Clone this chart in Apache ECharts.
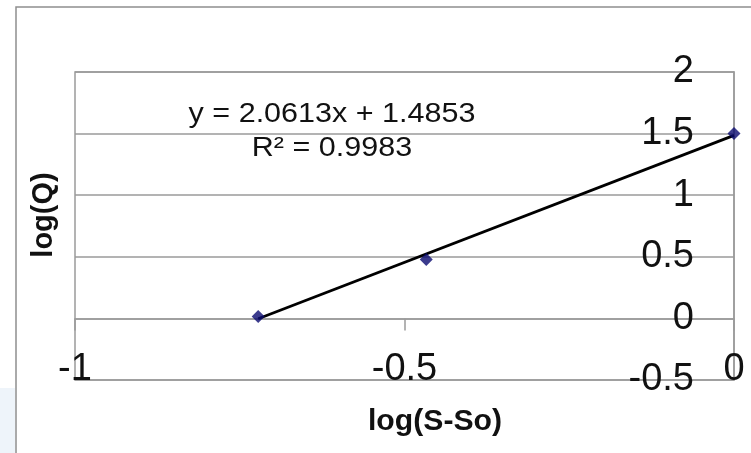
<!DOCTYPE html>
<html>
<head>
<meta charset="utf-8">
<script src="https://cdn.jsdelivr.net/npm/echarts@6/dist/echarts.min.js"></script>
<style>
html,body{margin:0;padding:0;background:#fff;}
#chart{width:751px;height:453px;}
</style>
</head>
<body>
<div id="chart"></div>
<script>
// Data
var logSSo = [-0.722, -0.467, 0];
var logQ = [0.016, 0.479, 1.50];
var xTicks = [-1, -0.5, 0];
var yTicks = [-0.5, 0, 0.5, 1, 1.5, 2];
// Trendline shown in the chart (y = 2.0613x + 1.4853, R² = 0.9983)
var trendSlope = 2.0613;
var trendIntercept = 1.4853;
var trendR2 = 0.9983;
var trendRange = [-0.722, 0];

var points = logSSo.map(function (x, i) { return [x, logQ[i]]; });
var trend = trendRange.map(function (x) { return [x, trendSlope * x + trendIntercept]; });

var FONT = '"Liberation Sans", Arial, sans-serif';
var GRAY = '#9a9a9a';
var chart = echarts.init(document.getElementById('chart'), null, {renderer: 'canvas'});
chart.setOption({
  backgroundColor: '#ffffff',
  animation: false,
  grid: {
    left: 75, right: 17, top: 72, bottom: 73,
    containLabel: false, outerBoundsMode: 'none',
    show: true, borderColor: GRAY, borderWidth: 1.5, backgroundColor: 'transparent'
  },
  xAxis: [
    {
      type: 'value',
      min: xTicks[0], max: xTicks[xTicks.length - 1], interval: 0.5,
      axisLine: {show: true, onZero: true, lineStyle: {color: GRAY, width: 1.5}},
      axisTick: {show: true, length: 12, lineStyle: {color: GRAY, width: 1.5}},
      splitLine: {show: false},
      axisLabel: {show: false}
    },
    {
      type: 'value',
      position: 'bottom',
      min: xTicks[0], max: xTicks[xTicks.length - 1], interval: 0.5,
      axisLine: {show: false, onZero: false},
      axisTick: {show: false},
      splitLine: {show: false},
      axisLabel: {
        show: true, showMinLabel: true, showMaxLabel: true,
        fontFamily: FONT, fontSize: 38, color: '#111',
        margin: -10, verticalAlign: 'middle',
        formatter: function (v) { return String(v); }
      }
    }
  ],
  yAxis: {
    type: 'value',
    position: 'right',
    min: yTicks[0], max: yTicks[yTicks.length - 1], interval: 0.5,
    axisLine: {show: true, onZero: false, lineStyle: {color: GRAY, width: 1.5}},
    axisTick: {show: false},
    splitLine: {show: true, lineStyle: {color: GRAY, width: 1.5}},
    axisLabel: {
      show: true, inside: true, showMinLabel: true, showMaxLabel: true,
      fontFamily: FONT, fontSize: 38, color: '#111', margin: 40,
      formatter: function (v) { return String(v); }
    }
  },
  series: [
    {
      name: 'Linear trend',
      type: 'line',
      xAxisIndex: 0,
      data: trend,
      showSymbol: false,
      symbol: 'none',
      lineStyle: {color: '#000', width: 2.8},
      z: 2
    },
    {
      name: 'log(Q)',
      type: 'scatter',
      xAxisIndex: 0,
      data: points,
      symbol: 'diamond',
      symbolSize: 13,
      itemStyle: {color: '#0a0a70'},
      z: 3
    }
  ],
  graphic: [
    {
      type: 'rect', silent: true, z: -10,
      shape: {x: 0, y: 388, width: 15, height: 70},
      style: {fill: '#eef4fa'}
    },
    {
      type: 'rect', silent: true, z: -9,
      shape: {x: 16, y: 7, width: 800, height: 500},
      style: {fill: 'none', stroke: '#8f8f8f', lineWidth: 1.5}
    },
    {
      type: 'text', z: 10, x: 332, y: 114, scaleX: 1.09,
      style: {text: 'y = ' + trendSlope + 'x + ' + trendIntercept, font: '28px ' + FONT,
              fill: '#111', textAlign: 'center', textVerticalAlign: 'middle'}
    },
    {
      type: 'text', z: 10, x: 332, y: 148, scaleX: 1.09,
      style: {text: 'R² = ' + trendR2, font: '28px ' + FONT,
              fill: '#111', textAlign: 'center', textVerticalAlign: 'middle'}
    },
    {
      type: 'text', z: 10, x: 435, y: 422, scaleX: 1.04,
      style: {text: 'log(S-So)', font: 'bold 29px ' + FONT,
              fill: '#111', textAlign: 'center', textVerticalAlign: 'middle'}
    },
    {
      type: 'text', z: 10, x: 44, y: 215, rotation: Math.PI / 2,
      style: {text: 'log(Q)', font: 'bold 29px ' + FONT,
              fill: '#111', textAlign: 'center', textVerticalAlign: 'middle'}
    }
  ]
});
</script>
</body>
</html>
